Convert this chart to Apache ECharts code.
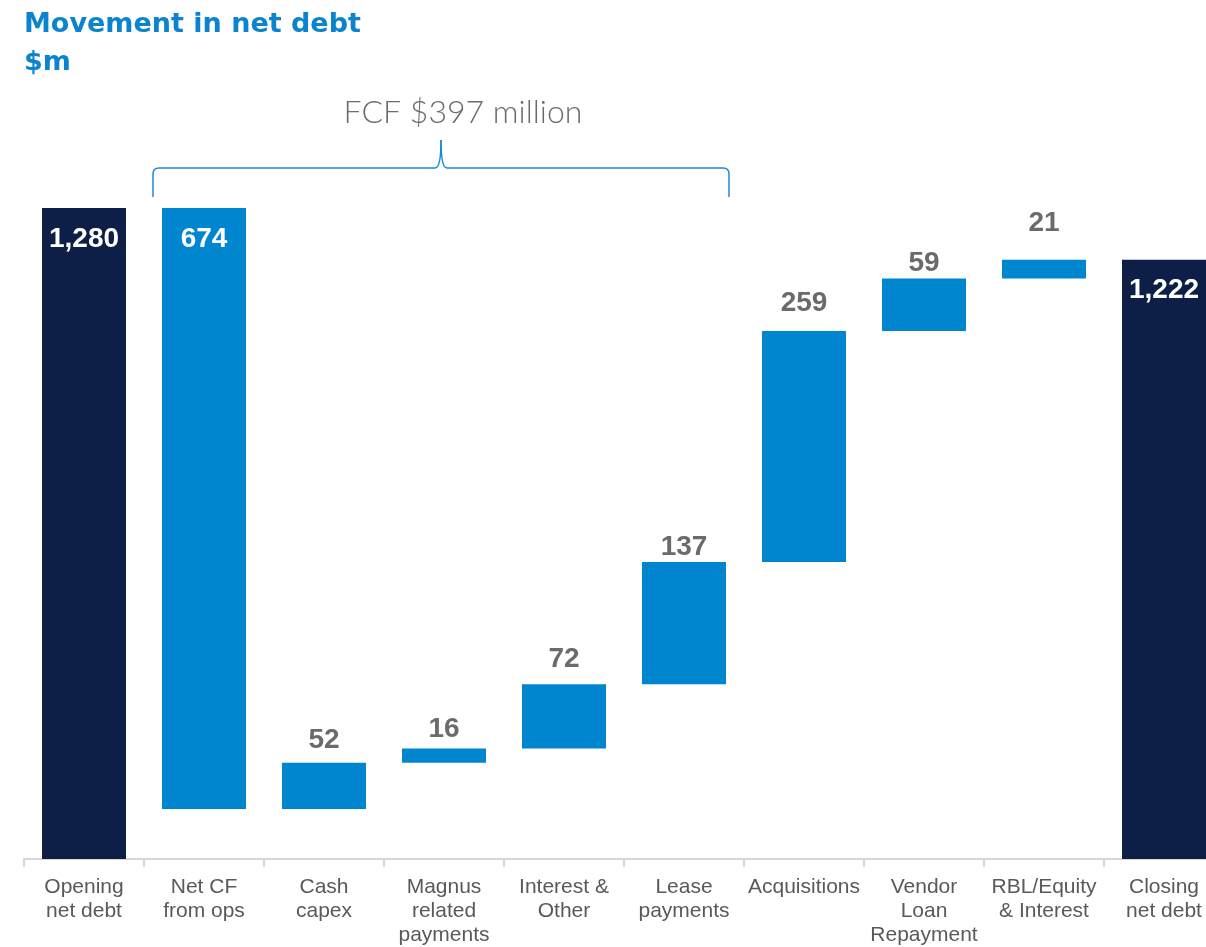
<!DOCTYPE html>
<html>
<head>
<meta charset="utf-8">
<script src="https://cdn.jsdelivr.net/npm/echarts@6/dist/echarts.min.js"></script>
<style>
html,body{margin:0;padding:0;background:#fff;overflow:hidden;}
#chart{width:1230px;height:947px;}
</style>
</head>
<body>
<div id="chart"></div>
<script>
// ---- data ----
const categories = ['Opening\nnet debt', 'Net CF\nfrom ops', 'Cash\ncapex', 'Magnus\nrelated\npayments', 'Interest &\nOther', 'Lease\npayments', 'Acquisitions', 'Vendor\nLoan\nRepayment', 'RBL/Equity\n& Interest', 'Closing\nnet debt'];
// signed movements; first and last are totals
const movements = [1280, -674, 52, 16, 72, 137, 259, 59, 21, 1222];
const isTotal = [true, false, false, false, false, false, false, false, false, true];
const bracketLabel = 'FCF $397 million';
const bracketFrom = 1, bracketTo = 5;

// ---- derived waterfall ----
const baseVals = [], barVals = [];
let running = 0;
movements.forEach((v, i) => {
  if (isTotal[i]) { baseVals.push(0); barVals.push(v); running = v; }
  else if (v < 0) { running += v; baseVals.push(running); barVals.push(-v); }
  else { baseVals.push(running); barVals.push(v); running += v; }
});

// label gaps (style only, as placed in the original slide)
const labelGap = [17, 17, 8.5, 5.5, 11, 0.5, 13.5, 1.5, 22.5, 17];

const BLUE = '#0085CF', NAVY = '#0E1F47', GREY = '#6b6b6b';
const fmt = n => n.toLocaleString('en-US');

const chart = echarts.init(document.getElementById('chart'));
const option = {
  animation: false,
  title: {
    text: 'Movement in net debt\n$m',
    left: 19, top: 1,
    textStyle: { fontFamily: 'DejaVu Sans', fontWeight: 'bold', fontSize: 27, lineHeight: 38, color: '#0A84CF' }
  },
  grid: { left: 24, width: 1200, top: 208, bottom: 84 },
  xAxis: {
    type: 'category', data: categories,
    axisLine: { lineStyle: { color: '#D6D6D6', width: 2 } },
    axisTick: { show: true, alignWithLabel: false, length: 8, lineStyle: { color: '#D6D6D6', width: 2 } },
    axisLabel: { interval: 0, color: '#595959', fontFamily: 'Liberation Sans, Arial', fontSize: 21, lineHeight: 24, margin: 16 }
  },
  yAxis: { type: 'value', min: 550, max: 1280, show: false, splitLine: { show: false } },
  series: [
    { type: 'bar', stack: 'w', data: baseVals, itemStyle: { color: 'transparent' }, barWidth: 84, silent: true },
    {
      type: 'bar', stack: 'w', barWidth: 84,
      data: barVals.map((v, i) => {
        const inside = isTotal[i] || movements[i] < 0;
        return {
          value: v,
          itemStyle: { color: isTotal[i] ? NAVY : BLUE },
          label: {
            show: true,
            position: inside ? 'insideTop' : 'top',
            distance: labelGap[i],
            color: inside ? '#ffffff' : GREY,
            formatter: fmt(Math.abs(movements[i]))
          }
        };
      }),
      label: { fontFamily: 'Liberation Sans, Arial', fontWeight: 'bold', fontSize: 28 }
    }
  ]
};
chart.setOption(option);

// bracket annotation
function drawBracket() {
  const xl = chart.convertToPixel({ xAxisIndex: 0 }, bracketFrom) - 51;
  const xr = chart.convertToPixel({ xAxisIndex: 0 }, bracketTo) + 45;
  const top = chart.convertToPixel({ yAxisIndex: 0 }, 1280);
  const yEnd = top - 11, yMid = top - 40, yTip = top - 68;
  const xm = (xl + xr) / 2;
  const r = 6;
  const st = { stroke: '#1A8BD3', lineWidth: 1.5, fill: null };
  chart.setOption({
    graphic: [
      { type: 'line', shape: { x1: xl, y1: yEnd, x2: xl, y2: yMid + r }, style: st },
      { type: 'bezierCurve', shape: { x1: xl, y1: yMid + r, cpx1: xl, cpy1: yMid, x2: xl + r, y2: yMid }, style: st },
      { type: 'line', shape: { x1: xl + r, y1: yMid, x2: xm - r, y2: yMid }, style: st },
      { type: 'bezierCurve', shape: { x1: xm - r, y1: yMid, cpx1: xm, cpy1: yMid, x2: xm, y2: yTip }, style: st },
      { type: 'bezierCurve', shape: { x1: xm, y1: yTip, cpx1: xm, cpy1: yMid, x2: xm + r, y2: yMid }, style: st },
      { type: 'line', shape: { x1: xm + r, y1: yMid, x2: xr - r, y2: yMid }, style: st },
      { type: 'bezierCurve', shape: { x1: xr - r, y1: yMid, cpx1: xr, cpy1: yMid, x2: xr, y2: yMid + r }, style: st },
      { type: 'line', shape: { x1: xr, y1: yMid + r, x2: xr, y2: yEnd }, style: st },
      { type: 'text', x: xm + 22, y: yTip - 27, style: { text: bracketLabel, fill: '#6b6b6b', font: '300 32px Lato, "Open Sans", sans-serif', textAlign: 'center', textVerticalAlign: 'middle' } }
    ]
  });
}
drawBracket();
</script>
</body>
</html>
